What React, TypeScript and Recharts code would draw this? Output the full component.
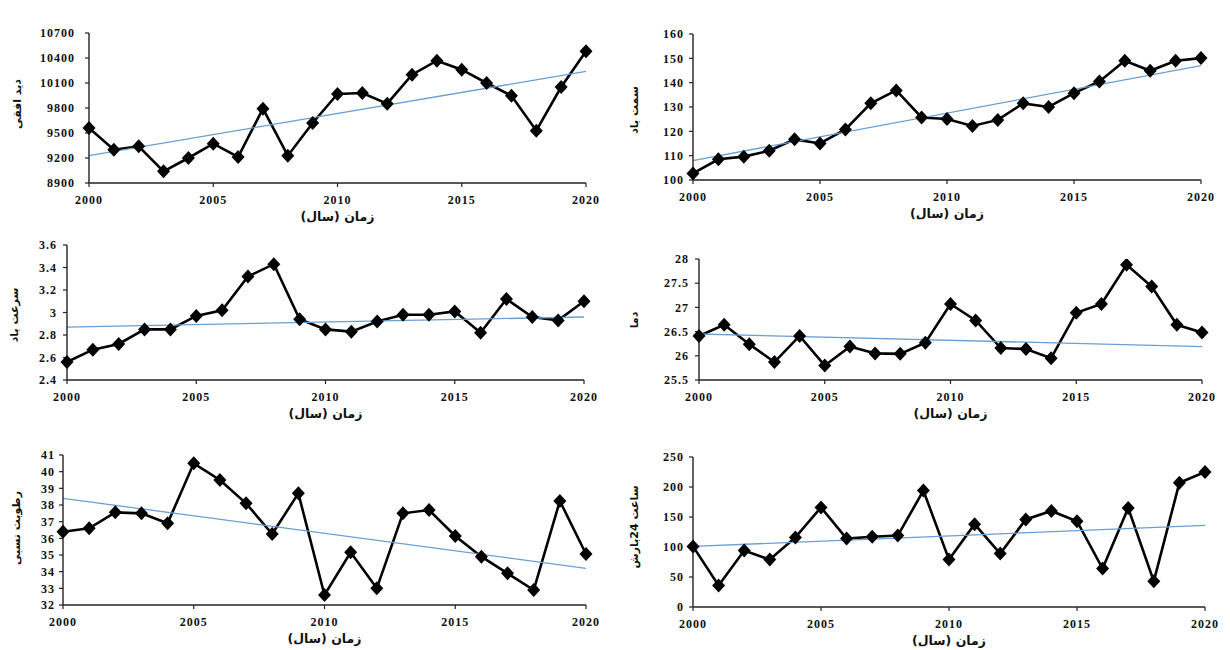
import React from 'react';
import { LineChart, Line, XAxis, YAxis, ReferenceLine } from 'recharts';

const years = [2000, 2001, 2002, 2003, 2004, 2005, 2006, 2007, 2008, 2009, 2010, 2011, 2012, 2013, 2014, 2015, 2016, 2017, 2018, 2019, 2020];
const xTicks = [2000, 2005, 2010, 2015, 2020];

const visibility = [9560, 9300, 9340, 9040, 9200, 9372, 9212, 9792, 9228, 9620, 9968, 9980, 9852, 10200, 10368, 10260, 10100, 9948, 9528, 10052, 10480];
const visibilityTicks = [8900, 9200, 9500, 9800, 10100, 10400, 10700];
const visibilityTrend = [9228, 10240];

const windDir = [102.7, 108.5, 109.6, 112, 116.7, 115, 120.8, 131.5, 136.8, 125.7, 125.1, 122.2, 124.7, 131.5, 130, 135.7, 140.5, 149, 144.9, 149, 150.1];
const windDirTicks = [100, 110, 120, 130, 140, 150, 160];
const windDirTrend = [108, 147];

const windSpeed = [2.56, 2.67, 2.72, 2.85, 2.85, 2.97, 3.02, 3.32, 3.43, 2.94, 2.85, 2.83, 2.92, 2.98, 2.98, 3.01, 2.82, 3.12, 2.96, 2.93, 3.1];
const windSpeedTicks = [2.4, 2.6, 2.8, 3, 3.2, 3.4, 3.6];
const windSpeedTrend = [2.87, 2.96];

const temperature = [26.41, 26.64, 26.24, 25.87, 26.41, 25.8, 26.19, 26.05, 26.04, 26.27, 27.07, 26.73, 26.16, 26.14, 25.95, 26.89, 27.07, 27.88, 27.43, 26.64, 26.48];
const temperatureTicks = [25.5, 26, 26.5, 27, 27.5, 28];
const temperatureTrend = [26.45, 26.19];

const humidity = [36.4, 36.6, 37.56, 37.5, 36.9, 40.5, 39.5, 38.1, 36.26, 38.7, 32.6, 35.16, 33.0, 37.5, 37.7, 36.14, 34.9, 33.9, 32.9, 38.24, 35.06];
const humidityTicks = [32, 33, 34, 35, 36, 37, 38, 39, 40, 41];
const humidityTrend = [38.4, 34.2];

const precip = [101, 36, 94, 79, 116, 166, 114, 117, 119, 194, 79, 138, 89, 146, 160, 143, 64, 165, 43, 207, 225];
const precipTicks = [0, 50, 100, 150, 200, 250];
const precipTrend = [101, 136];

const xTitle = 'زمان (سال)';

type Cfg = {
  values: number[];
  ticks: number[];
  trend: number[];
  label: string;
  L: number; R: number; T: number; B: number;
  lx: number; ly: number;
  gap: number;
};

const panels: Cfg[] = [
  { values: visibility, ticks: visibilityTicks, trend: visibilityTrend, label: 'دید افقی', L: 89, R: 586, T: 33, B: 183, lx: 17, ly: 104, gap: 10 },
  { values: windDir, ticks: windDirTicks, trend: windDirTrend, label: 'سمت باد', L: 693, R: 1201, T: 34, B: 180, lx: 634, ly: 110, gap: 5 },
  { values: windSpeed, ticks: windSpeedTicks, trend: windSpeedTrend, label: 'سرعت باد', L: 67, R: 584, T: 245, B: 380, lx: 14, ly: 315, gap: 6 },
  { values: temperature, ticks: temperatureTicks, trend: temperatureTrend, label: 'دما', L: 699, R: 1202, T: 259, B: 380, lx: 634, ly: 320, gap: 6 },
  { values: humidity, ticks: humidityTicks, trend: humidityTrend, label: 'رطوبت نسبی', L: 63, R: 586, T: 455, B: 605, lx: 16, ly: 528, gap: 4 },
  { values: precip, ticks: precipTicks, trend: precipTrend, label: 'ساعت 24بارش', L: 693, R: 1205, T: 457, B: 607, lx: 634, ly: 527, gap: 5 },
];

const tickStyle = {
  fill: '#111',
  fontSize: 12,
  fontWeight: 'bold' as const,
  letterSpacing: 1,
  fontFamily: '"Liberation Serif", "DejaVu Serif", serif',
};
const arabicFont = '"DejaVu Sans", "Noto Sans", sans-serif';

const Diamond = (props: any) => {
  const { cx, cy, index } = props;
  if (cx == null || cy == null) return <g key={index} />;
  return (
    <path
      key={index}
      d={`M${cx},${cy - 7}L${cx + 6.5},${cy}L${cx},${cy + 7}L${cx - 6.5},${cy}Z`}
      fill="#000"
    />
  );
};

const ML = 70, MR = 25, MT = 15, MB = 45;

function Panel({ cfg }: { cfg: Cfg }) {
  const W = cfg.R - cfg.L + ML + MR;
  const H = cfg.B - cfg.T + MT + MB;
  const data = years.map((y, i) => ({ year: y, v: cfg.values[i] }));
  const lo = cfg.ticks[0];
  const hi = cfg.ticks[cfg.ticks.length - 1];
  return (
    <>
      <div style={{ position: 'absolute', left: cfg.L - ML, top: cfg.T - MT, width: W, height: H }}>
        <LineChart width={W} height={H} data={data} margin={{ top: MT, right: MR, left: 0, bottom: 0 }}>
          <XAxis
            dataKey="year"
            type="number"
            domain={[2000, 2020]}
            ticks={xTicks}
            interval={0}
            height={MB}
            tick={tickStyle}
            tickSize={4}
            tickMargin={8}
            axisLine={{ stroke: '#222', strokeWidth: 1.4 }}
            tickLine={{ stroke: '#222', strokeWidth: 1.2 }}
          />
          <YAxis
            type="number"
            width={ML}
            domain={[lo, hi]}
            ticks={cfg.ticks}
            interval={0}
            allowDataOverflow
            tick={tickStyle}
            tickSize={4}
            tickMargin={cfg.gap}
            axisLine={{ stroke: '#222', strokeWidth: 1.4 }}
            tickLine={{ stroke: '#222', strokeWidth: 1.2 }}
          />
          <Line
            dataKey="v"
            stroke="#000"
            strokeWidth={2.6}
            dot={Diamond}
            activeDot={false}
            isAnimationActive={false}
          />
          <ReferenceLine
            segment={[{ x: 2000, y: cfg.trend[0] }, { x: 2020, y: cfg.trend[1] }]}
            stroke="#6a9fd4"
            strokeWidth={1.3}
            ifOverflow="visible"
          />
        </LineChart>
      </div>
      <div
        style={{
          position: 'absolute',
          left: cfg.lx,
          top: cfg.ly,
          transform: 'translate(-50%, -50%) rotate(-90deg)',
          fontFamily: arabicFont,
          fontWeight: 'bold',
          fontSize: 11,
          whiteSpace: 'nowrap',
          direction: 'rtl',
          color: '#111',
        }}
      >
        {cfg.label}
      </div>
      <div
        style={{
          position: 'absolute',
          left: (cfg.L + cfg.R) / 2,
          top: cfg.B + 33,
          transform: 'translate(-50%, -50%)',
          fontFamily: arabicFont,
          fontWeight: 'bold',
          fontSize: 12.5,
          whiteSpace: 'nowrap',
          direction: 'rtl',
          color: '#111',
        }}
      >
        {xTitle}
      </div>
    </>
  );
}

export default function App() {
  return (
    <div style={{ position: 'absolute', left: 0, top: 0, width: 1230, height: 650, background: '#fff', overflow: 'hidden' }}>
      {panels.map((p, i) => (
        <Panel key={i} cfg={p} />
      ))}
    </div>
  );
}
